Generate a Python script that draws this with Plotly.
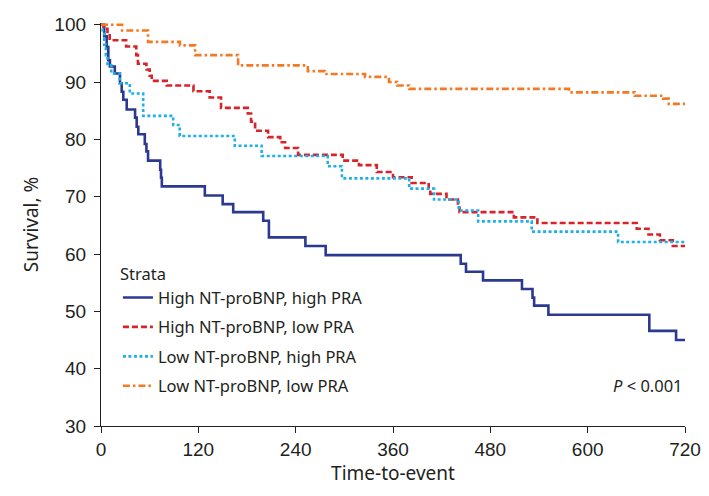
import plotly.graph_objects as go

# Kaplan-Meier step data (time in days, survival in %)
hh_time = [0, 4, 7, 9, 11, 17, 23.4, 25.5, 27.5, 31.7, 42, 44, 46, 54, 56, 58, 73, 74, 75,
           128, 150, 163, 200, 207, 252, 277, 443.5, 450, 471, 519, 532, 534, 551.6, 676, 709, 720]
hh_surv = [100, 98.0, 96.1, 93.8, 92.7, 91.5, 89.8, 88.3, 86.9, 85.2, 83.8, 82.2, 80.9, 79.2, 77.9, 76.3, 74.7, 73.3, 71.8,
           70.2, 68.7, 67.3, 65.8, 62.9, 61.4, 59.8, 58.3, 56.9, 55.4, 53.9, 52.4, 51.0, 49.4, 46.6, 45.0, 45.0]

hl_time = [0, 3, 8, 10.7, 31, 43.5, 45.5, 56, 60, 62.5, 81, 114, 134, 148, 181, 185, 190, 206, 221, 227,
           243, 298, 318, 340, 360, 383, 404, 406, 426, 440, 442, 509, 538, 660.5, 675, 689, 705, 720]
hl_surv = [100, 99.3, 98.5, 97.3, 96.2, 94.7, 93.2, 92.2, 91.1, 90.2, 89.4, 88.4, 87.3, 85.5, 84.5, 83.1, 81.5, 80.4, 79.5, 78.5,
           77.3, 76.3, 75.5, 74.3, 73.4, 72.4, 71.4, 70.5, 69.5, 68.4, 67.3, 66.4, 65.4, 64.4, 63.4, 62.4, 61.4, 61.4]

lh_time = [0, 2, 4, 6, 8, 12.7, 23, 35.5, 52, 89, 97, 165, 198, 279.5, 297, 380, 410.6, 441, 465, 531, 637.5, 720]
lh_surv = [100, 98.7, 96.5, 94.7, 92.9, 91.5, 89.8, 88.0, 84.1, 82.5, 80.6, 78.9, 77.1, 75.3, 73.2, 71.4, 69.5, 67.6, 65.7, 63.9, 62.1, 62.1]

ll_time = [0, 26, 58, 97.4, 116, 169, 255, 276, 325.5, 355, 365, 380, 577, 658, 693, 700, 720]
ll_surv = [100, 99.0, 97.0, 96.4, 94.7, 92.9, 91.9, 91.4, 90.9, 90.0, 89.4, 88.8, 88.2, 87.6, 87.1, 86.2, 86.2]

strata = ["High NT-proBNP, high PRA", "High NT-proBNP, low PRA",
          "Low NT-proBNP, high PRA", "Low NT-proBNP, low PRA"]
x_ticks = [0, 120, 240, 360, 480, 600, 720]
y_ticks = [30, 40, 50, 60, 70, 80, 90, 100]

series = [
    (hh_time, hh_surv, "#2b3990", "solid"),
    (hl_time, hl_surv, "#d7232a", "6px,3px"),
    (lh_time, lh_surv, "#1fb0e6", "3px,2.5px"),
    (ll_time, ll_surv, "#f37a24", "7px,3px,2.5px,3px"),
]

fig = go.Figure()
for i, (t, s, c, d) in enumerate(series):
    fig.add_trace(go.Scatter(
        x=t, y=s, mode="lines", name=strata[i], legendgroup=f"g{i}",
        line=dict(color=c, width=2.6, dash=d, shape="hv"),
    ))

axis_font = dict(family="Liberation Sans, Arial, sans-serif", size=19, color="#231f20")
title_font = dict(family="Noto Sans, sans-serif", size=19, color="#231f20")

# page body adds an 8px margin, so the figure is sized 8px smaller
fig.update_layout(
    width=701, height=488,
    margin=dict(l=93, r=24, t=15, b=70),
    paper_bgcolor="white", plot_bgcolor="white",
    showlegend=True,
    legend=dict(
        title=dict(text="Strata", font=dict(family="Noto Sans, sans-serif", size=16.5, color="#231f20")),
        font=dict(family="Noto Sans, sans-serif", size=16.5, color="#231f20"),
        x=0.029, y=0.415, xanchor="left", yanchor="top",
        bgcolor="rgba(0,0,0,0)", tracegroupgap=5, traceorder="grouped",
    ),
    xaxis=dict(
        range=[0, 720], tickvals=x_ticks, ticktext=[str(v) for v in x_ticks],
        showgrid=False, zeroline=False, showline=True, linecolor="#231f20", linewidth=1.3,
        ticks="outside", ticklen=6, tickcolor="#231f20", tickwidth=1.3,
        tickfont=axis_font, automargin=False,
        title=dict(text="Time-to-event", font=title_font, standoff=4),
    ),
    yaxis=dict(
        range=[30, 100.3], tickvals=y_ticks, ticktext=[str(v) for v in y_ticks],
        showgrid=False, zeroline=False, showline=True, linecolor="#231f20", linewidth=1.3,
        ticks="outside", ticklen=6, tickcolor="#231f20", tickwidth=1.3,
        tickfont=axis_font, automargin=False, ticklabelstandoff=4,
        title=dict(text="Survival, %", font=title_font, standoff=10),
    ),
    annotations=[dict(
        text="<i>P</i> &lt; 0.001", x=1.0, y=0.10, xref="paper", yref="paper",
        xanchor="right", yanchor="middle", showarrow=False,
        font=dict(family="Noto Sans, sans-serif", size=16.5, color="#231f20"),
    )],
)

fig.write_html("out.html")
